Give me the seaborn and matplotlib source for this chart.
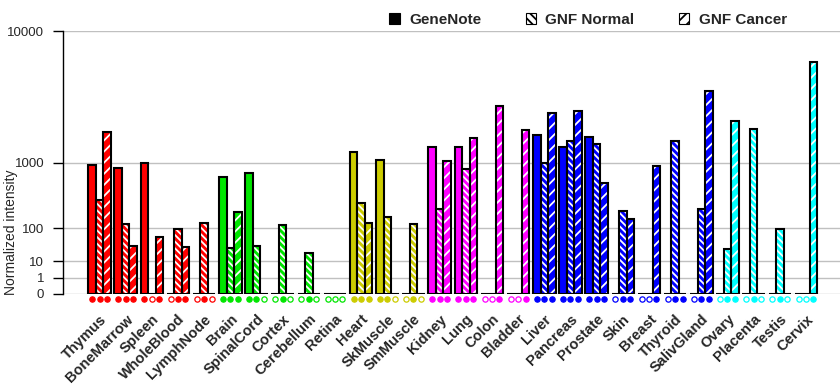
import numpy as np
import pandas as pd
import matplotlib
matplotlib.use("Agg")
import matplotlib.pyplot as plt
from matplotlib.patches import Rectangle, Patch
import seaborn as sns

nan = np.nan
tissues = ["Thymus", "BoneMarrow", "Spleen", "WholeBlood", "LymphNode",
           "Brain", "SpinalCord", "Cortex", "Cerebellum", "Retina",
           "Heart", "SkMuscle", "SmMuscle",
           "Kidney", "Lung", "Colon", "Bladder",
           "Liver", "Pancreas", "Prostate", "Skin", "Breast", "Thyroid", "SalivGland",
           "Ovary", "Placenta", "Testis", "Cervix"]
group_colors = (["#ff0000"] * 5 + ["#00e600"] * 5 + ["#cccc00"] * 3 +
                ["#ff00ff"] * 4 + ["#0000ff"] * 7 + ["#00ffff"] * 4)
genenote = [944, 879, 985, nan, nan, 670, 757, nan, nan, nan,
            1277, 1052, nan, 1432, 1464, nan, nan,
            1897, 1432, 1783, nan, nan, nan, nan, nan, nan, nan, nan]
gnf_normal = [330, 126, nan, 96, 132, 29.5, 34, 115, 20, nan,
              290, 166, 126, 239, 841, nan, nan,
              1000, 1637, 1555, 221, nan, 1671, 237, 27.5, 2143, 94, nan]
gnf_cancer = [2018, 34, 60.6, 32.6, nan, 205, nan, nan, nan, nan,
              132, nan, nan, 1026, 1746, 3304, 2062,
              2865, 2974, 574, 158, 924, 0, 4198, 2507, nan, nan, 6637]
sources = ["GeneNote", "GNF Normal", "GNF Cancer"]
yticks = [0, 1, 10, 100, 1000, 10000]
ytick_labels = ["0", "1", "10", "100", "1000", "10000"]

series = {"GeneNote": genenote, "GNF Normal": gnf_normal, "GNF Cancer": gnf_cancer}
rows = []
for s in sources:
    for t, v in zip(tissues, series[s]):
        rows.append({"tissue": t, "source": s, "value": v})
df = pd.DataFrame(rows)
df["present"] = ~df["value"].isna()
df["plotval"] = df["value"].fillna(0.0)

sns.set_theme(style="white")
plt.rcParams["font.family"] = ["Liberation Sans", "DejaVu Sans"]
plt.rcParams["hatch.linewidth"] = 1.3

fig = plt.figure(figsize=(8.4, 3.85), dpi=100)
ax = fig.add_axes([63 / 840, 1 - 294 / 385, 777 / 840, 263 / 385])

P = np.log10(2)
def fwd(x):
    x = np.asarray(x, dtype=float)
    return np.sign(x) * np.abs(x) ** P
def inv(y):
    y = np.asarray(y, dtype=float)
    return np.sign(y) * np.abs(y) ** (1 / P)
ax.set_yscale("function", functions=(fwd, inv))

sns.barplot(data=df, x="tissue", y="plotval", hue="source", order=tissues,
            hue_order=sources, width=0.855, errorbar=None, legend=False,
            ax=ax, saturation=1, linewidth=0)

hatches = [None, "\\\\\\\\\\", "///"]
for j, cont in enumerate(ax.containers):
    for i, bar in enumerate(cont):
        col = group_colors[i]
        bar.set_facecolor(col)
        bar.set_linewidth(0)
        if hatches[j]:
            bar.set_edgecolor("white")
            bar.set_hatch(hatches[j])
        else:
            bar.set_edgecolor(col)
        bar.set_zorder(2)
        ax.add_patch(Rectangle((bar.get_x(), bar.get_y()), bar.get_width(),
                               bar.get_height(), fill=False, edgecolor="black",
                               linewidth=1.5, zorder=3))

# presence markers under each bar
xtrans = ax.get_xaxis_transform()
for j, cont in enumerate(ax.containers):
    sub = df[df["source"] == sources[j]].set_index("tissue").loc[tissues]
    for i, bar in enumerate(cont):
        xc = bar.get_x() + bar.get_width() / 2
        col = group_colors[i]
        present = bool(sub["present"].iloc[i])
        ax.plot([xc], [-0.019], marker="o", markersize=3.8,
                markerfacecolor=col if present else "white",
                markeredgecolor=col, markeredgewidth=0.9, transform=xtrans,
                clip_on=False, zorder=4, linestyle="none")

ax.set_ylim(0, 10000)
ax.set_xlim(-1.395, 28.30)
ax.set_yticks(yticks)
ax.set_yticklabels(ytick_labels)
ax.yaxis.set_minor_locator(matplotlib.ticker.NullLocator())
ax.yaxis.grid(True, color="#c0c0c0", linewidth=1)
ax.xaxis.grid(False)
ax.set_axisbelow(True)
for side in ["top", "right", "bottom"]:
    ax.spines[side].set_visible(False)
ax.spines["left"].set_color("black")
ax.spines["left"].set_linewidth(1)
ax.tick_params(axis="y", which="major", direction="out", length=7.5, width=1,
               color="black", pad=6, labelsize=9.5, left=True)
ax.tick_params(axis="x", length=0, pad=13)
ax.set_xticks(range(len(tissues)))
ax.set_xticklabels(tissues, rotation=45, ha="right", rotation_mode="anchor",
                   fontsize=10.5, fontweight="bold")
ax.set_xlabel("")
ax.set_ylabel("Normalized intensity", fontsize=10)
ax.yaxis.set_label_coords(-0.058, 0.236)

handles = [Patch(facecolor="black", edgecolor="black", linewidth=0.8),
           Patch(facecolor="white", edgecolor="black", hatch="\\\\\\\\", linewidth=0.8),
           Patch(facecolor="white", edgecolor="black", hatch="///", linewidth=0.8)]
fig.legend(handles, sources, loc="center", bbox_to_anchor=(588 / 840, 1 - 20 / 385),
           ncol=3, frameon=False, handlelength=0.7, handleheight=0.7,
           handletextpad=0.6, columnspacing=2.9,
           prop={"size": 11, "weight": "bold"})

fig.savefig("out.png", dpi=100)
